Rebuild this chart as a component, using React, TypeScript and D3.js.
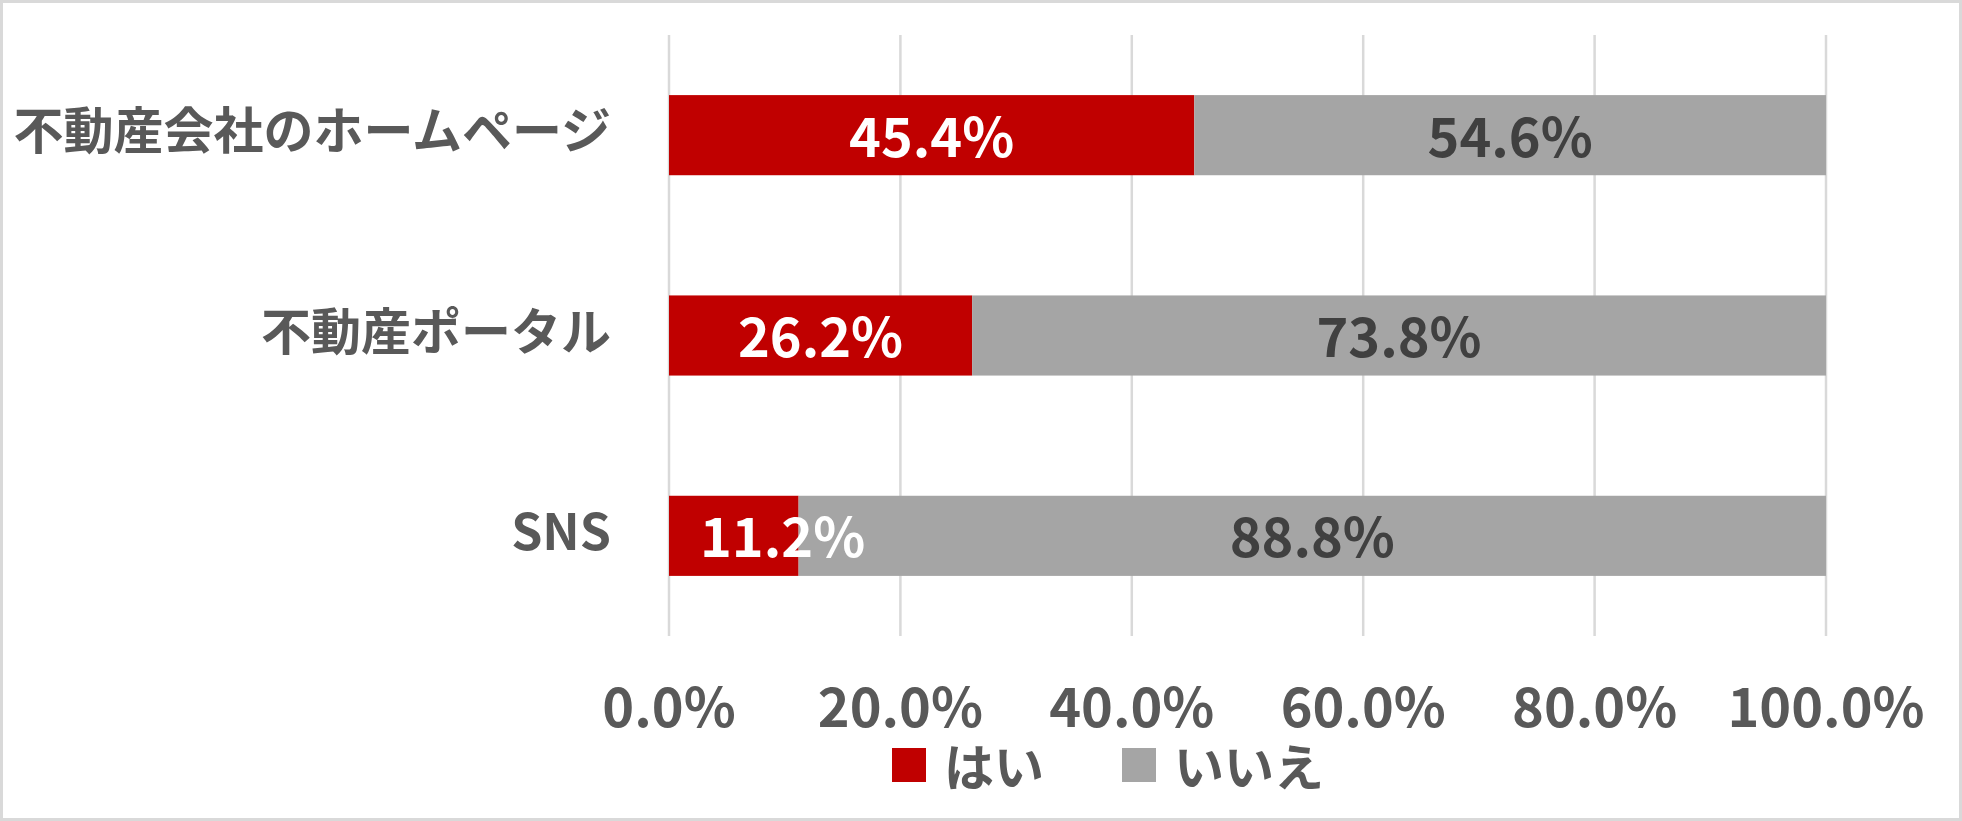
import React, { useEffect, useRef } from 'react';
import * as d3 from 'd3';

const categories = ['不動産会社のホームページ', '不動産ポータル', 'SNS'];
const yesValues = [45.4, 26.2, 11.2];
const noValues = [54.6, 73.8, 88.8];
const seriesNames = ['はい', 'いいえ'];
const seriesColors = ['#C00000', '#A5A5A5'];
const labelColors = ['#FFFFFF', '#404040'];
const tickValues = [0, 20, 40, 60, 80, 100];

const W = 1962;
const H = 821;
const FONT = '"Noto Sans CJK JP", "Noto Sans", sans-serif';

const App: React.FC = () => {
  const svgRef = useRef<SVGSVGElement>(null);

  useEffect(() => {
    document.body.style.margin = '0';
    if (!svgRef.current) return;
    const svg = d3.select(svgRef.current);
    svg.selectAll('*').remove();

    const x = d3.scaleLinear().domain([0, 100]).range([669, 1826]);
    const y = d3.scaleBand<string>().domain(categories).range([35, 636]).paddingInner(0.6).paddingOuter(0.3);

    // outer border
    svg.append('rect')
      .attr('x', 1.5).attr('y', 1.5)
      .attr('width', W - 3).attr('height', H - 3)
      .attr('fill', '#fff')
      .attr('stroke', '#D9D9D9')
      .attr('stroke-width', 3);

    // gridlines
    svg.selectAll('line.grid')
      .data(tickValues)
      .join('line')
      .attr('x1', d => x(d)).attr('x2', d => x(d))
      .attr('y1', 35).attr('y2', 636)
      .attr('stroke', '#D9D9D9')
      .attr('stroke-width', 2.5);

    // stacked data
    const rows = categories.map((c, i) => ({ cat: c, yes: yesValues[i], no: noValues[i] }));
    const stacked = d3.stack<any>().keys(['yes', 'no'])(rows);

    // bars first, labels after so nothing covers them
    stacked.forEach((layer, si) => {
      svg.append('g')
        .selectAll('rect')
        .data(layer)
        .join('rect')
        .attr('x', d => x(d[0]))
        .attr('width', d => x(d[1]) - x(d[0]))
        .attr('y', (d: any) => y(d.data.cat)!)
        .attr('height', y.bandwidth())
        .attr('fill', seriesColors[si]);
    });

    stacked.forEach((layer, si) => {
      svg.append('g')
        .selectAll('text')
        .data(layer)
        .join('text')
        .attr('x', d => (x(d[0]) + x(d[1])) / 2)
        .attr('y', (d: any) => y(d.data.cat)! + y.bandwidth() / 2 - 2)
        .attr('dominant-baseline', 'central')
        .attr('text-anchor', 'middle')
        .attr('fill', labelColors[si])
        .attr('font-family', FONT)
        .attr('font-weight', 'bold')
        .attr('font-size', 54)
        .text(d => (d[1] - d[0]).toFixed(1) + '%')
        .each(function (d) {
          // keep label inside the plot when the segment is too narrow
          const el = this as SVGTextElement;
          const half = el.getComputedTextLength() / 2;
          const mid = (x(d[0]) + x(d[1])) / 2;
          const minX = x(0) + 31 + half;
          if (mid < minX) d3.select(el).attr('x', minX);
        });
    });

    // category labels
    svg.append('g')
      .selectAll('text')
      .data(categories)
      .join('text')
      .attr('x', 611)
      .attr('y', d => y(d)! + y.bandwidth() / 2 - 8)
      .attr('dominant-baseline', 'central')
      .attr('text-anchor', 'end')
      .attr('fill', '#595959')
      .attr('font-family', FONT)
      .attr('font-weight', 'bold')
      .attr('font-size', 50)
      .text(d => d);

    // x tick labels
    svg.append('g')
      .selectAll('text')
      .data(tickValues)
      .join('text')
      .attr('x', d => x(d))
      .attr('y', 727)
      .attr('text-anchor', 'middle')
      .attr('fill', '#595959')
      .attr('font-family', FONT)
      .attr('font-weight', 'bold')
      .attr('font-size', 54)
      .text(d => d.toFixed(1) + '%');

    // legend
    const legendX = [892, 1122];
    seriesNames.forEach((name, i) => {
      svg.append('rect')
        .attr('x', legendX[i]).attr('y', 748)
        .attr('width', 34).attr('height', 34)
        .attr('fill', seriesColors[i]);
      svg.append('text')
        .attr('x', legendX[i] + 52)
        .attr('y', 764)
        .attr('dominant-baseline', 'central')
        .attr('fill', '#595959')
        .attr('font-family', FONT)
        .attr('font-weight', 'bold')
        .attr('font-size', 50)
        .text(name);
    });
  }, []);

  return <svg ref={svgRef} width={W} height={H} style={{ display: 'block' }} />;
};

export default App;
